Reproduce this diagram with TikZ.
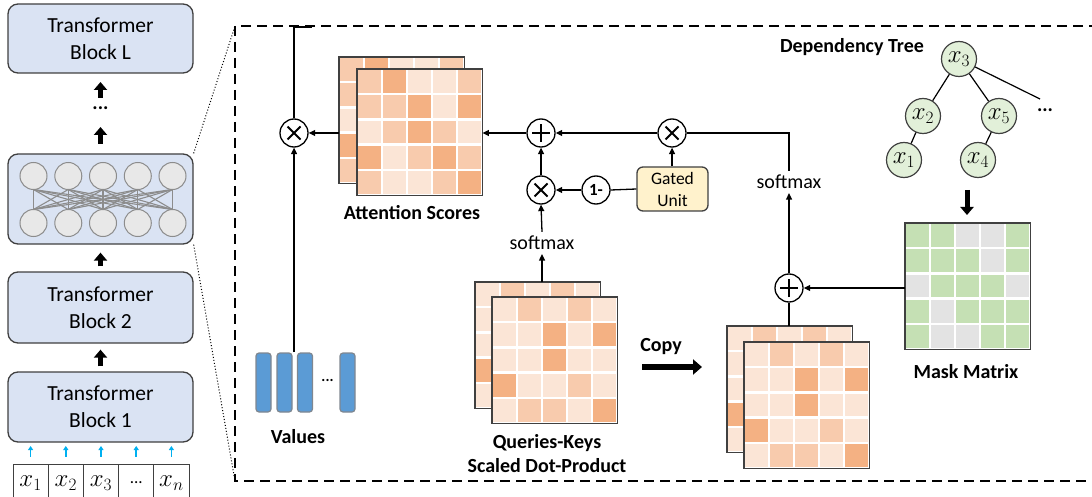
\documentclass[tikz,border=0pt]{standalone}
\usepackage{fontspec}
\setmainfont{Carlito}
\usetikzlibrary{arrows.meta}
\definecolor{blk}{HTML}{DAE3F3}
\definecolor{bord}{HTML}{404040}
\definecolor{ncfill}{HTML}{E8E8E8}
\definecolor{ncline}{HTML}{8C8C8C}
\definecolor{ocL}{HTML}{FBE5D6}
\definecolor{ocM}{HTML}{F8CBAD}
\definecolor{ocD}{HTML}{F4B183}
\definecolor{mgG}{HTML}{C5E0B4}
\definecolor{mgN}{HTML}{E3E3E3}
\definecolor{treeG}{HTML}{E2F0D9}
\definecolor{gatef}{HTML}{FFF2CC}
\definecolor{valf}{HTML}{5B9BD5}
\definecolor{valb}{HTML}{7F8790}
\definecolor{cyanarr}{HTML}{00B0F0}
\tikzset{
  tblock/.style={draw=bord, fill=blk, rounded corners=10pt, line width=1.3pt, minimum width=185pt, align=center, font=\fontsize{21.5}{27}\selectfont, inner sep=0pt},
  op/.style={circle, draw, line width=1.3pt, minimum size=28pt, inner sep=0pt, fill=white},
  timesop/.style={op, path picture={\draw[line width=1.8pt]
     ([shift={(-6.5pt,-6.5pt)}]path picture bounding box.center) -- ([shift={(6.5pt,6.5pt)}]path picture bounding box.center)
     ([shift={(-6.5pt,6.5pt)}]path picture bounding box.center) -- ([shift={(6.5pt,-6.5pt)}]path picture bounding box.center);}},
  plusop/.style={op, path picture={\draw[line width=1.8pt]
     ([shift={(-9pt,0pt)}]path picture bounding box.center) -- ([shift={(9pt,0pt)}]path picture bounding box.center)
     ([shift={(0pt,-9pt)}]path picture bounding box.center) -- ([shift={(0pt,9pt)}]path picture bounding box.center);}},
  con/.style={line width=1.3pt, -{Triangle[length=6.5pt,width=6pt]}},
  plain/.style={line width=1.3pt},
  fat/.style={line width=5pt, -{Triangle[length=8pt,width=13pt]}},
  fatcopy/.style={line width=6pt, -{Triangle[length=9pt,width=15pt]}},
  cyarrow/.style={draw=cyanarr, line width=1.6pt, -{Triangle[length=4pt,width=5pt]}},
  lbl/.style={font=\bfseries\fontsize{20}{24}\selectfont, inner sep=0pt, align=center},
  smx/.style={font=\fontsize{20}{24}\selectfont, inner sep=4pt},
  ncirc/.style={circle, draw=ncline, fill=ncfill, line width=1pt, minimum size=27pt, inner sep=0pt},
  netline/.style={draw=ncline, line width=1.1pt},
  treenode/.style={circle, draw=bord, fill=treeG, line width=1.2pt, minimum size=35pt, inner sep=0pt, font=\fontsize{25}{25}\selectfont},
  valbar/.style={draw=valb, fill=valf, rounded corners=3pt, line width=1.2pt, minimum width=15pt, minimum height=59pt, inner sep=0pt},
  tokcell/.style={draw=bord, line width=0.9pt, minimum width=35.2pt, minimum height=38pt, inner sep=0pt, font=\fontsize{25}{25}\selectfont},
}
\newcommand\heatmat[4]{%
  \node[inner sep=0pt, minimum width=125pt, minimum height=126pt, fill=white, anchor=north west] (#1) at (#2,#3) {};
  \foreach \c [count=\i from 0] in {#4} {
    \pgfmathtruncatemacro\rr{floor(\i/5)}
    \pgfmathtruncatemacro\cc{mod(\i,5)}
    \fill[\c] ({#2+\cc*25+1.2},{#3+\rr*25.2+1.2}) rectangle ++(22.6,22.8);
  }
  \draw[line width=1.2pt, draw=bord] (#1.north west) rectangle (#1.south east);
}
\begin{document}
\begin{tikzpicture}[x=1pt,y=-1pt]
\useasboundingbox (0,0) rectangle (1092,497);

% ---------------- left column ----------------
\node[tblock, minimum height=69pt] (tL) at (100.5,38.5) {Transformer\\Block L};
\node[tblock, minimum height=90pt] (net) at (100.5,199) {};
\foreach \a in {33.5,68.3,103,137.8,172.5}
  \foreach \b in {33.5,68.3,103,137.8,172.5}
    \draw[netline] (\a,189.5) -- (\b,209.5);
\foreach \x [count=\i] in {33.5,68.3,103,137.8,172.5} {
  \node[ncirc] (nt\i) at (\x,176) {};
  \node[ncirc] (nb\i) at (\x,223) {};
}
\node[tblock, minimum height=71pt] (t2) at (100.5,307.5) {Transformer\\Block 2};
\node[tblock, minimum height=70pt] (t1) at (100.5,407) {Transformer\\Block 1};
\node[font=\bfseries\fontsize{20}{20}\selectfont, inner sep=0pt] (vdots) at (100.5,108) {...};

\coordinate (a1s) at (100.5,144);
\coordinate (a1e) at (100.5,127);
\coordinate (a2s) at (100.5,98);
\coordinate (a2e) at (100.5,82);
\draw[fat] (a1s) -- (a1e);
\draw[fat] (a2s) -- (a2e);
\draw[fat, shorten <=5pt, shorten >=8pt] (t2.north) -- (net.south);
\draw[fat, shorten <=5pt, shorten >=6pt] (t1.north) -- (t2.south);

\foreach \x/\t [count=\i] in {30.6/$x_1$, 65.8/$x_2$, 101/$x_3$, 136.2/{\fontsize{17}{17}\selectfont ...}, 171.4/$x_n$} {
  \node[tokcell] (tok\i) at (\x,483) {\t};
  \draw[cyarrow] (tok\i.north |- 0,456.5) -- (tok\i.north |- 0,446);
}

% dotted zoom lines
\coordinate (boxTL) at (235,26);
\coordinate (boxBL) at (235,481);
\draw[dotted, line width=1pt] (net.north east) -- (boxTL);
\draw[dotted, line width=1pt] (net.south east) -- (boxBL);

% dashed frame
\draw[line width=1.8pt, dash pattern=on 10pt off 6pt] (boxTL) rectangle (1100,481);

% ---------------- matrices ----------------
\heatmat{attB}{339}{57}{ocM,ocD,ocL,ocL,ocM, ocM,ocM,ocD,ocL,ocD, ocL,ocM,ocD,ocM,ocL, ocD,ocL,ocM,ocD,ocM, ocM,ocL,ocL,ocM,ocD}
\heatmat{attF}{357}{69}{ocM,ocD,ocL,ocL,ocM, ocM,ocM,ocD,ocL,ocD, ocL,ocM,ocD,ocM,ocL, ocD,ocL,ocM,ocD,ocM, ocM,ocL,ocL,ocM,ocD}
\heatmat{qkB}{475}{282}{ocL,ocM,ocL,ocM,ocL, ocL,ocL,ocD,ocL,ocD, ocL,ocL,ocD,ocL,ocL, ocD,ocL,ocL,ocM,ocL, ocL,ocM,ocM,ocL,ocD}
\heatmat{qkF}{492}{297}{ocL,ocM,ocL,ocM,ocL, ocL,ocL,ocD,ocL,ocD, ocL,ocL,ocD,ocL,ocL, ocD,ocL,ocL,ocM,ocL, ocL,ocM,ocM,ocL,ocD}
\heatmat{cpB}{727}{326}{ocL,ocM,ocL,ocM,ocL, ocL,ocL,ocD,ocL,ocD, ocL,ocL,ocD,ocL,ocL, ocD,ocL,ocL,ocM,ocL, ocL,ocM,ocM,ocL,ocD}
\heatmat{cpF}{744}{342}{ocL,ocM,ocL,ocM,ocL, ocL,ocL,ocD,ocL,ocD, ocL,ocL,ocD,ocL,ocL, ocD,ocL,ocL,ocM,ocL, ocL,ocM,ocM,ocL,ocD}
\heatmat{mask}{905}{223}{mgG,mgG,mgN,mgN,mgG, mgG,mgG,mgG,mgN,mgG, mgN,mgG,mgG,mgG,mgN, mgG,mgN,mgG,mgG,mgG, mgG,mgN,mgN,mgG,mgG}

\node[lbl] (attlbl) at (412,213) {Attention Scores};
\node[lbl] (qklbl) at (547,454) {Queries-Keys\\[0pt]Scaled Dot-Product};
\node[lbl] (masklbl) at (966,372) {Mask Matrix};
\node[lbl] (deplbl) at (852,47) {Dependency Tree};
\node[lbl] (vallbl) at (298,437) {Values};
\node[lbl] (copylbl) at (661,347) {Copy};

% ---------------- values ----------------
\node[valbar] (v1) at (263.5,382.5) {};
\node[valbar] (v2) at (284.5,382.5) {};
\node[valbar] (v3) at (305,382.5) {};
\node[valbar] (v4) at (347.5,382.5) {};
\node[font=\bfseries\fontsize{15}{15}\selectfont, inner sep=0pt] (vdd) at (327.5,380) {...};

% ---------------- operators ----------------
\node[timesop] (times1) at (294,133) {};
\node[plusop] (plus1) at (541,133) {};
\node[timesop] (times2) at (672,133) {};
\node[timesop] (times3) at (541,190) {};
\node[op, font=\bfseries\fontsize{17}{17}\selectfont] (onem) at (596,190) {1-};
\node[draw=bord, fill=gatef, rounded corners=6pt, line width=1.3pt, minimum width=71pt, minimum height=44pt, inner sep=0pt, align=center, font=\fontsize{17.5}{22}\selectfont] (gate) at (672.5,189) {Gated\\Unit};
\node[plusop] (plus2) at (789,288) {};
\node[smx] (sm1) at (542,243) {softmax};
\node[smx] (sm2) at (789,182) {softmax};

% ---------------- connectors ----------------
\coordinate (vtop) at (294,352);
\coordinate (outc) at (312,27);
\draw[con] (vtop) -- (times1.south);
\draw[plain] (times1.north) |- (outc);
\draw[con] (times1.east -| attB.west) -- (times1.east);
\draw[con] (plus1.west) -- (plus1.west -| attF.east);
\draw[con] (times2.west) -- (plus1.east);
\draw[plain] (sm2.north) |- (times2.east);
\draw[con] (gate.north -| times2) -- (times2.south);
\draw[plain] (gate.west) -- (onem.east);
\draw[con] (onem.west) -- (times3.east);
\draw[con] (times3.north) -- (plus1.south);
\draw[con] (sm1.north) -- (times3.south);
\draw[con] (qkB.north -| sm1) -- (sm1.south);
\draw[con] (plus2.north) -- (sm2.south);
\draw[con] (plus2 -| mask.west) -- (plus2.east);
\draw[plain] (plus2.south) -- (plus2.south |- cpB.north);

\coordinate (cpA) at (642,367);
\coordinate (cpZ) at (702,367);
\draw[fatcopy] (cpA) -- (cpZ);

% ---------------- dependency tree ----------------
\node[treenode] (x3) at (959,59) {$x_3$};
\node[treenode] (x2) at (923,116) {$x_2$};
\node[treenode] (x5) at (999,116) {$x_5$};
\node[treenode] (x1) at (904,160) {$x_1$};
\node[treenode] (x4) at (978,160) {$x_4$};
\coordinate (xmore) at (1040,99);
\node[font=\bfseries\fontsize{20}{20}\selectfont, inner sep=0pt] (tdots) at (1045,110) {...};
\draw[plain, line width=1.2pt] (x3) -- (x2) (x3) -- (x5) (x2) -- (x1) (x5) -- (x4) (x3) -- (xmore);
\coordinate (ta) at (967,190);
\coordinate (tb) at (967,215);
\draw[fat] (ta) -- (tb);
\end{tikzpicture}
\end{document}
